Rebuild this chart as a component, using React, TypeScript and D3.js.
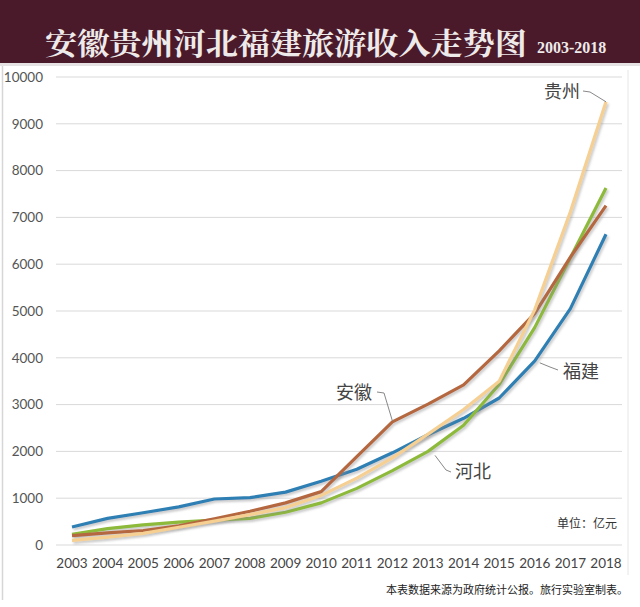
import React from "react";
import * as d3 from "d3";

const years = ["2003","2004","2005","2006","2007","2008","2009","2010","2011","2012","2013","2014","2015","2016","2017","2018"];
const fujian = [385, 570, 690, 815, 983, 1011, 1130, 1364, 1617, 1970, 2355, 2707, 3141, 3935, 5050, 6640];
const hebei = [230, 350, 430, 490, 530, 570, 700, 900, 1210, 1590, 2000, 2560, 3430, 4650, 6140, 7630];
const anhui = [200, 260, 310, 410, 560, 720, 900, 1140, 1890, 2630, 3010, 3420, 4150, 4950, 6150, 7250];
const guizhou = [100, 170, 250, 380, 510, 650, 800, 1060, 1430, 1860, 2370, 2895, 3500, 5030, 7120, 9470];
const yTicks = [0, 1000, 2000, 3000, 4000, 5000, 6000, 7000, 8000, 9000, 10000];

const seriesList = [
  { name: "福建", values: fujian, color: "#2f7fb3" },
  { name: "河北", values: hebei, color: "#8dba3a" },
  { name: "安徽", values: anhui, color: "#b5683f" },
  { name: "贵州", values: guizhou, color: "#f6cf92" },
];

export default function App() {
  const W = 640, H = 607;
  const x = d3.scalePoint<string>().domain(years).range([72, 606]);
  const y = d3.scaleLinear().domain([0, 10000]).range([545, 77]);
  const line = d3.line<number>().x((_, i) => x(years[i]) as number).y((v) => y(v));
  const sans = "Lato, 'Open Sans', sans-serif";
  const cjk = "'Noto Sans CJK SC', sans-serif";
  const lastX = x("2018") as number;
  const px = (yr: string) => x(yr) as number;
  return (
    <svg width={W} height={H} style={{ position: "absolute", left: 0, top: 0, display: "block", background: "#fff" }}>
      <defs>
        <filter id="sh" x="-10%" y="-10%" width="120%" height="120%">
          <feDropShadow dx="1.5" dy="2" stdDeviation="1" floodColor="#888" floodOpacity="0.45" />
        </filter>
      </defs>
      <rect x={0} y={0} width={W} height={63} fill="#4a1a2b" />
      <rect x={0} y={63} width={W} height={3} fill="#e6e2e3" />
      <text x={45} y={54} fill="#efeaea" fontFamily="'Noto Serif CJK SC', 'Noto Sans CJK SC', serif" fontWeight="bold" fontSize={30} textLength={482} lengthAdjust="spacingAndGlyphs">安徽贵州河北福建旅游收入走势图</text>
      <text x={537} y={53} fill="#efeaea" fontFamily="'Liberation Serif', 'DejaVu Serif', serif" fontWeight="bold" fontSize={16}>2003-2018</text>
      <line x1={2.5} x2={2.5} y1={66} y2={600} stroke="#d6d6d6" strokeWidth={1.5} />
      <line x1={628} x2={628} y1={70} y2={575} stroke="#e6e6e6" strokeWidth={1} />
      {yTicks.map((t) => (
        <g key={t}>
          <line x1={56} x2={622} y1={y(t)} y2={y(t)} stroke="#d9d9d9" strokeWidth={1} />
          <text x={43} y={y(t)} dy="0.35em" textAnchor="end" fontFamily={sans} fontSize={13.5} fill="#555">{t}</text>
        </g>
      ))}
      {years.map((yr) => (
        <text key={yr} x={px(yr)} y={568} textAnchor="middle" fontFamily={sans} fontSize={13.5} fill="#444">{yr}</text>
      ))}
      {seriesList.map((s) => (
        <path key={s.name} d={line(s.values) || ""} fill="none" stroke={s.color} strokeWidth={3.2} strokeLinejoin="round" filter="url(#sh)" />
      ))}
      <text x={544} y={98} fontFamily={cjk} fontSize={18} fill="#444">贵州</text>
      <polyline points={`583,91 590,92 ${lastX},${y(guizhou[15])}`} fill="none" stroke="#888" strokeWidth={1} />
      <text x={336} y={399} fontFamily={cjk} fontSize={18} fill="#444">安徽</text>
      <polyline points={`377,392 384,393 ${px("2012")},${y(anhui[9]) - 1}`} fill="none" stroke="#888" strokeWidth={1} />
      <text x={455} y={478} fontFamily={cjk} fontSize={18} fill="#444">河北</text>
      <polyline points={`451,472 446,470 ${px("2013") + 7},${y(hebei[10]) + 4}`} fill="none" stroke="#888" strokeWidth={1} />
      <text x={563} y={378} fontFamily={cjk} fontSize={18} fill="#444">福建</text>
      <polyline points={`558,370 550,367 ${px("2016") + 5},${y(fujian[13]) + 2}`} fill="none" stroke="#888" strokeWidth={1} />
      <text x={617} y={528} textAnchor="end" fontFamily={cjk} fontSize={12} fill="#333">单位：亿元</text>
      <text x={628} y={594} textAnchor="end" fontFamily={cjk} fontSize={11} fill="#222">本表数据来源为政府统计公报。旅行实验室制表。</text>
    </svg>
  );
}
